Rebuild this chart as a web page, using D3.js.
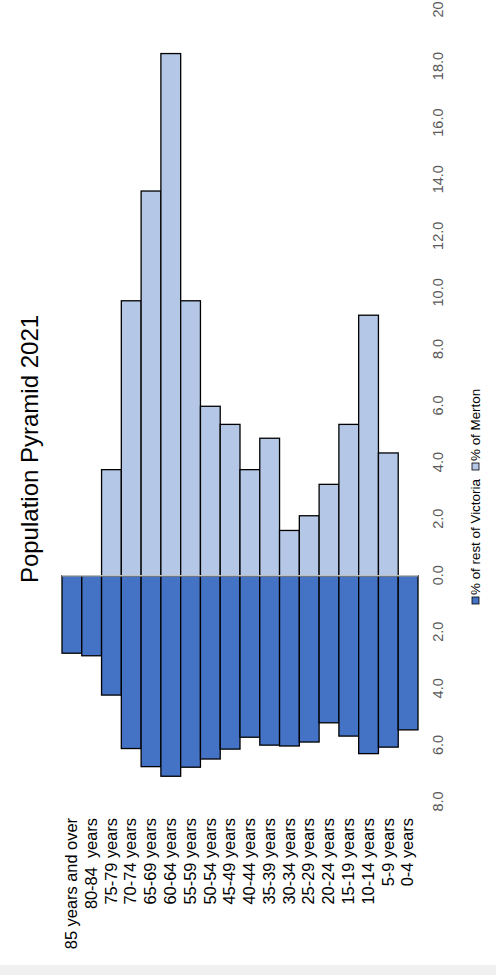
<!DOCTYPE html>
<html>
<head>
<meta charset="utf-8">
<script src="https://cdn.jsdelivr.net/npm/d3@7"></script>
<style>
  html, body { margin: 0; padding: 0; background: #ffffff; }
  svg { display: block; }
</style>
</head>
<body>
<svg id="chart" width="496" height="975"></svg>
<script>
const categories = ["85 years and over", "80-84  years", "75-79 years", "70-74 years", "65-69 years",
  "60-64 years", "55-59 years", "50-54 years", "45-49 years", "40-44 years", "35-39 years",
  "30-34 years", "25-29 years", "20-24 years", "15-19 years", "10-14 years", "5-9 years", "0-4 years"];
const victoria = [2.74, 2.83, 4.22, 6.11, 6.75, 7.09, 6.77, 6.48, 6.13, 5.71, 5.99, 6.02, 5.88, 5.20, 5.67, 6.29, 6.06, 5.45];
const merton = [0, 0, 3.75, 9.72, 13.6, 18.46, 9.72, 5.99, 5.35, 3.75, 4.86, 1.60, 2.12, 3.23, 5.35, 9.21, 4.34, 0];
const valueTicks = [-8, -6, -4, -2, 0, 2, 4, 6, 8, 10, 12, 14, 16, 18, 20];
const seriesNames = ["% of rest of Victoria", "% of Merton"];
const title = "Population Pyramid 2021";

const svg = d3.select("#chart");
svg.append("rect").attr("x", 0).attr("y", 965).attr("width", 496).attr("height", 10).attr("fill", "#f0f0f0");

const g = svg.append("g").attr("transform", "translate(0,975) rotate(-90)");

const x = d3.scaleLinear().domain([-8, 20]).range([173, 965]);
const y = d3.scaleBand().domain(categories).range([62, 418]).padding(0);

const font = "Liberation Sans, Arial, sans-serif";

// Victoria bars (left)
g.selectAll("rect.vic").data(categories).join("rect")
  .attr("class", "vic")
  .attr("x", (d, i) => x(-victoria[i]))
  .attr("y", d => y(d))
  .attr("width", (d, i) => x(0) - x(-victoria[i]))
  .attr("height", y.bandwidth())
  .attr("fill", "#4472C4")
  .attr("stroke", "#000")
  .attr("stroke-width", 1.3);

// Merton bars (right)
g.selectAll("rect.mer").data(categories.filter((d, i) => merton[i] > 0)).join("rect")
  .attr("class", "mer")
  .attr("x", x(0))
  .attr("y", d => y(d))
  .attr("width", d => x(merton[categories.indexOf(d)]) - x(0))
  .attr("height", y.bandwidth())
  .attr("fill", "#B4C7E7")
  .attr("stroke", "#000")
  .attr("stroke-width", 1.3);

// zero line
g.append("line")
  .attr("x1", x(0)).attr("x2", x(0))
  .attr("y1", y.range()[0]).attr("y2", y.range()[1])
  .attr("stroke", "#bfbfbf").attr("stroke-width", 1.5);

// value axis
const xAxis = d3.axisBottom(x).tickValues(valueTicks).tickSize(0).tickPadding(0)
  .tickFormat(d => d === 20 ? "20" : d3.format(".1f")(Math.abs(d)));
const xa = g.append("g").attr("transform", "translate(0,433)").call(xAxis);
xa.select(".domain").remove();
xa.selectAll("text").attr("font-family", font).attr("font-size", 14.5).attr("fill", "#595959");

// category axis
const yAxis = d3.axisLeft(y).tickSize(0).tickPadding(0);
const ya = g.append("g").attr("transform", "translate(157,0)").call(yAxis);
ya.select(".domain").remove();
ya.selectAll("text").attr("font-family", font).attr("font-size", 16.4).attr("fill", "#000")
  .style("white-space", "pre");

// title
g.append("text").attr("x", 526).attr("y", 32).attr("text-anchor", "middle")
  .attr("dominant-baseline", "middle")
  .attr("font-family", font).attr("font-size", 24).attr("fill", "#000").text(title);

// legend
const legend = [
  { name: seriesNames[0], color: "#4472C4", x0: 371 },
  { name: seriesNames[1], color: "#B4C7E7", x0: 505 }
];
const lg = g.append("g");
legend.forEach(l => {
  lg.append("rect").attr("x", l.x0).attr("y", 472).attr("width", 7).attr("height", 7)
    .attr("fill", l.color).attr("stroke", "#000").attr("stroke-width", 0.8);
  lg.append("text").attr("x", l.x0 + 9).attr("y", 476).attr("dominant-baseline", "middle")
    .attr("font-family", font).attr("font-size", 13.4).attr("fill", "#000").text(l.name);
});
</script>
</body>
</html>
